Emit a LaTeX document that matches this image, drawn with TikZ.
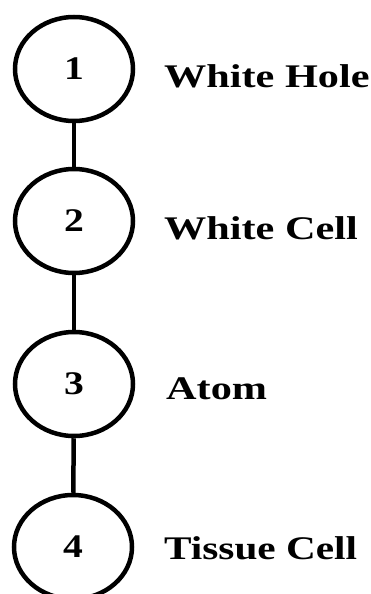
\documentclass[tikz,border=0pt]{standalone}
\usepackage{fontspec}
\setmainfont{Liberation Serif}
\usetikzlibrary{shapes.geometric}

\begin{document}
\begin{tikzpicture}[x=1pt, y=-1pt,
	stage/.style={ellipse, draw, line width=4.5pt, minimum width=118pt, minimum height=104pt, inner sep=0pt, font=\fontsize{33}{33}\selectfont\bfseries},
	tag/.style={anchor=base west, inner sep=0pt, font=\fontsize{33}{33}\selectfont\bfseries}]
		\useasboundingbox (0,0) rectangle (370,594);
		\node[stage] (s1) at (74,69) {\scalebox{1.2}[1]{1}};
		\node[stage] (s2) at (74,221) {\scalebox{1.2}[1]{2}};
		\node[stage] (s3) at (74,384) {\scalebox{1.2}[1]{3}};
		\node[stage] (s4) at (73,547) {\scalebox{1.2}[1]{4}};
		\node[tag] (t1) at (164,87) {\scalebox{1.28}[1]{White Hole}};
		\node[tag] (t2) at (164,239) {\scalebox{1.28}[1]{White Cell}};
		\node[tag] (t3) at (166,399) {\scalebox{1.28}[1]{Atom}};
		\node[tag] (t4) at (164,559) {\scalebox{1.25}[1]{Tissue Cell}};
		\draw[line width=4.5pt] (s1)--(s2);
		\draw[line width=4.5pt] (s2)--(s3);
		\draw[line width=4.5pt] (s3)--(s4);
	\end{tikzpicture}
\end{document}
